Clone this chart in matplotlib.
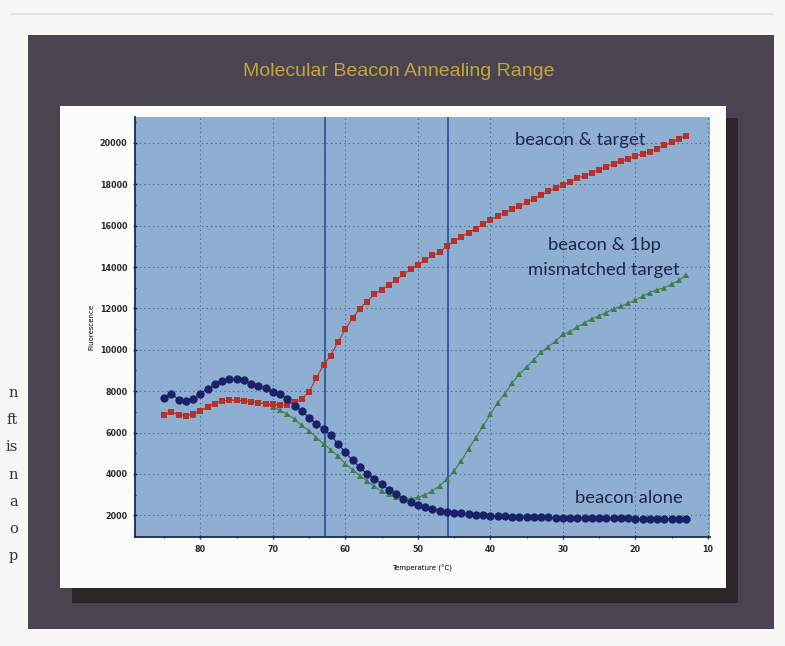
import matplotlib
matplotlib.use("Agg")
import matplotlib.pyplot as plt
from matplotlib.patches import Rectangle

# ---- data ----
temperature = list(range(85, 12, -1))  # 85 .. 13 °C

beacon_alone = [7680, 7880, 7590, 7520, 7640, 7880, 8120, 8330, 8490, 8570,
                8570, 8520, 8360, 8250, 8170, 7960, 7850, 7620, 7300, 7040,
                6720, 6400, 6190, 5860, 5450, 5050, 4650, 4320, 4000, 3760,
                3520, 3230, 3040, 2800, 2630, 2520, 2420, 2310, 2230, 2180,
                2130, 2100, 2060, 2020, 2000, 1980, 1960, 1950, 1940, 1930,
                1920, 1910, 1900, 1900, 1890, 1880, 1880, 1870, 1870, 1860,
                1860, 1860, 1850, 1850, 1850, 1840, 1840, 1840, 1840, 1830,
                1830, 1830, 1830]

beacon_target = [6860, 7010, 6870, 6820, 6900, 7060, 7240, 7400, 7530, 7570,
                 7570, 7540, 7490, 7450, 7400, 7360, 7340, 7340, 7470, 7630,
                 7980, 8620, 9270, 9720, 10380, 10980, 11540, 11990, 12330, 12690,
                 12900, 13150, 13380, 13640, 13880, 14100, 14330, 14560, 14710, 15000,
                 15250, 15450, 15660, 15850, 16080, 16280, 16450, 16630, 16790, 16940,
                 17130, 17300, 17480, 17650, 17820, 17960, 18130, 18300, 18390, 18560,
                 18700, 18850, 18980, 19110, 19230, 19350, 19480, 19570, 19720, 19880,
                 20020, 20190, 20340]

beacon_mismatch = [6830, 6980, 6850, 6790, 6870, 7030, 7210, 7380, 7520, 7550,
                   7550, 7520, 7480, 7440, 7400, 7250, 7070, 6890, 6650, 6340,
                   6080, 5750, 5460, 5160, 4860, 4500, 4190, 3920, 3650, 3400,
                   3150, 3010, 2870, 2800, 2800, 2870, 2990, 3180, 3420, 3740,
                   4140, 4640, 5200, 5750, 6300, 6880, 7430, 7870, 8390, 8810,
                   9170, 9510, 9880, 10150, 10410, 10740, 10880, 11100, 11310, 11480,
                   11650, 11800, 11970, 12100, 12250, 12400, 12590, 12760, 12900, 12990,
                   13170, 13350, 13600]

range_lines = [62.8, 45.9]
x_ticks = [80, 70, 60, 50, 40, 30, 20, 10]
y_ticks = [2000, 4000, 6000, 8000, 10000, 12000, 14000, 16000, 18000, 20000]
page_letters = ["n", "ft", "is", "n", "a", "o", "p"]

W, H = 785, 646
fig = plt.figure(figsize=(W / 100, H / 100), dpi=100)
fig.patch.set_facecolor("#f7f7f5")

def prect(x0, y0, x1, y1, color, z=0):
    fig.add_artist(Rectangle((x0 / W, 1 - y1 / H), (x1 - x0) / W, (y1 - y0) / H,
                             transform=fig.transFigure, facecolor=color,
                             edgecolor="none", zorder=z))

# dark frame, shadow, white panel
prect(28, 35, 774, 629, "#4a4450", 0)
prect(72, 118, 738, 603, "#2a2629", 1)
prect(60, 106, 726, 588, "#fbfbfa", 2)

# faint scan line at top
fig.add_artist(plt.Line2D([0.015, 0.985], [1 - 14 / H, 1 - 14 / H],
                          transform=fig.transFigure, color="#e4e4e4", lw=1.5, zorder=0))

# page text fragments on the left
ys = [393, 420, 447, 475, 502, 529, 556]
for t, yy in zip(page_letters, ys):
    fig.text(18 / W, 1 - yy / H, t, ha="right", va="center",
             family="DejaVu Serif", fontsize=10.5, color="#333333")

# title
fig.text(399 / W, 1 - 72 / H, "Molecular Beacon Annealing Range",
         ha="center", va="center", family="Liberation Sans",
         fontsize=14, color="#c4a53a", zorder=5)

ax = fig.add_axes([135 / W, 1 - 537 / H, (710 - 135) / W, (537 - 117) / H], zorder=5)
ax.set_facecolor("#8eafd1")

ax.plot(temperature, beacon_mismatch, color="#3f7d4c", lw=0.8, marker="^",
        markersize=4.4, markeredgewidth=0, zorder=3)
ax.plot(temperature, beacon_target, color="#b5322b", lw=0.8, marker="s",
        markersize=4.2, markeredgewidth=0, zorder=4)
ax.plot(temperature, beacon_alone, color="#1b2168", lw=0.8, marker="o",
        markersize=6, markeredgewidth=0, zorder=5)

for xv in range_lines:
    ax.axvline(xv, color="#2d56a0", lw=1.3, zorder=2)

ax.set_xlim(89, 9.7)
ax.set_ylim(950, 21250)
ax.set_xticks(x_ticks)
ax.set_xticks([85, 75, 65, 55, 45, 35, 25, 15], minor=True)
ax.set_yticks(y_ticks)
ax.set_yticks([v + 1000 for v in y_ticks], minor=True)
ax.set_xticklabels([str(v) for v in x_ticks])
ax.set_yticklabels([str(v) for v in y_ticks])
ax.tick_params(axis="both", which="major", labelsize=5.8, length=3,
               direction="inout", color="#1b2a55", width=1, pad=4)
ax.tick_params(axis="both", which="minor", length=2, direction="inout",
               color="#1b2a55", width=0.8)
for lab in ax.get_xticklabels() + ax.get_yticklabels():
    lab.set_fontweight("bold")
    lab.set_color("#2a2a2a")

ax.grid(True, which="major", color="#2a3a60", lw=0.8, ls=(0, (1, 3)), alpha=0.7)
ax.set_axisbelow(True)
for s in ["top", "right"]:
    ax.spines[s].set_visible(False)
for s in ["left", "bottom"]:
    ax.spines[s].set_color("#1b2a55")
    ax.spines[s].set_linewidth(1.3)

ax.set_ylabel("Fluorescence", fontsize=5, labelpad=4)
ax.set_xlabel("Temperature (°C)", fontsize=5, labelpad=8)

lab_kw = dict(family="Lato", fontsize=13.3, color="#1e2848", zorder=6)
ax.text(27.6, 20150, "beacon & target", ha="center", va="center", **lab_kw)
ax.text(24.3, 15080, "beacon & 1bp", ha="center", va="center", **lab_kw)
ax.text(24.3, 13870, "mismatched target", ha="center", va="center", **lab_kw)
ax.text(13.5, 2850, "beacon alone", ha="right", va="center", **lab_kw)

fig.savefig("out.png", dpi=100, facecolor=fig.get_facecolor())
